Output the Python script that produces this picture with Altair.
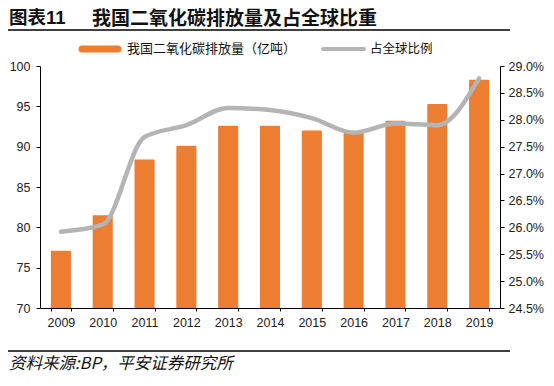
import altair as alt
import pandas as pd

years = ["2009", "2010", "2011", "2012", "2013", "2014", "2015", "2016", "2017", "2018", "2019"]
emissions = [77.1, 81.5, 88.4, 90.1, 92.6, 92.6, 92.0, 91.7, 93.2, 95.3, 98.3]
share = [25.92, 26.05, 27.68, 27.90, 28.22, 28.18, 28.03, 27.76, 27.93, 27.90, 28.77]
left_ticks = [70, 75, 80, 85, 90, 95, 100]
right_ticks = [24.5, 25.0, 25.5, 26.0, 26.5, 27.0, 27.5, 28.0, 28.5, 29.0]

title_tag = "图表11"
title_main = "我国二氧化碳排放量及占全球比重"
bar_name = "我国二氧化碳排放量（亿吨）"
line_name = "占全球比例"
source = "资料来源:BP，平安证券研究所"

ORANGE = "#ED7D31"
GREY = "#B4B4B4"
CJK = "Noto Sans CJK SC"
NUM = "Liberation Sans"
TITLE_FONT = "Liberation Sans, Noto Sans CJK SC"

df = pd.DataFrame({"year": years, "emis": emissions, "share": share})

base = alt.Chart(df)
x = alt.X("year:N", sort=years, title=None,
          scale=alt.Scale(paddingInner=0.52, paddingOuter=0.26),
          axis=alt.Axis(labelAngle=0, labelFont=NUM, labelFontSize=12.5, labelColor="#222",
                        domainColor="#000", tickColor="#000", tickSize=3, tickBand="extent",
                        labelPadding=5))

bars = base.mark_bar(color=ORANGE, cornerRadiusTopLeft=1, cornerRadiusTopRight=1).encode(
    x=x,
    y=alt.Y("emis:Q", title=None, scale=alt.Scale(domain=[70, 100], zero=False, nice=False),
            axis=alt.Axis(values=left_ticks, grid=False, labelFont=NUM, labelFontSize=12.5,
                          labelColor="#222", domainColor="#000", tickColor="#000",
                          tickSize=4, labelPadding=6)),
    y2=alt.datum(70),
)

line = base.mark_line(color=GREY, strokeWidth=4.5, interpolate="monotone", strokeCap="round").encode(
    x=x,
    y=alt.Y("share:Q", title=None, scale=alt.Scale(domain=[24.5, 29.0], zero=False, nice=False),
            axis=alt.Axis(orient="right", values=right_ticks, grid=False, labelFont=NUM,
                          labelFontSize=12.5, labelColor="#222", domainColor="#000",
                          tickColor="#000", tickSize=4, labelPadding=4,
                          labelExpr="format(datum.value, '.1f') + '%'")),
)

def txt(s, xv, yv, size, bold=False, italic=False, font=CJK, baseline="middle"):
    return alt.Chart(pd.DataFrame({"t": [s]})).mark_text(
        align="left", baseline=baseline, fontSize=size, font=font,
        fontWeight="bold" if bold else "normal",
        fontStyle="italic" if italic else "normal", color="#111",
    ).encode(text="t:N", x=alt.value(xv), y=alt.value(yv))

def rule(x1, x2, yv, color, w, cap="butt"):
    return alt.Chart(pd.DataFrame({"a": [0]})).mark_rule(color=color, strokeWidth=w, strokeCap=cap).encode(
        x=alt.value(x1), x2=alt.value(x2), y=alt.value(yv))

deco = [
    txt(title_tag, -31, -48, 18.5, bold=True, font=TITLE_FONT),
    txt(title_main, 52, -47, 19, bold=True, font=TITLE_FONT),
    rule(-32, 470, -36, "#000", 1.5),
    rule(42, 78, -17, ORANGE, 7, "round"),
    txt(bar_name, 87, -17, 13),
    rule(283, 324, -17, GREY, 4, "round"),
    txt(line_name, 330, -17, 12.5),
    rule(-32, 470, 285, "#000", 1.5),
    txt(source, -31, 298, 16.5, italic=True),
]

chart = alt.layer(bars, line, *deco).resolve_scale(y="independent").properties(
    width=460, height=242,
    autosize=alt.AutoSizeParams(type="none"),
    padding={"left": 32, "top": 58, "right": 46, "bottom": 70},
).configure_view(stroke=None)

chart.save("out.html", embed_options={"renderer": "svg", "actions": False})
